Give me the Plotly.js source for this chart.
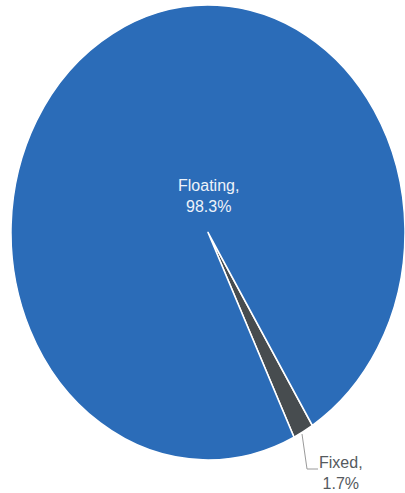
<!DOCTYPE html>
<html>
<head>
<meta charset="utf-8">
<script src="https://cdn.plot.ly/plotly-3.0.1.min.js"></script>
<style>
  html, body { margin: 0; padding: 0; background: #ffffff; width: 405px; height: 493px; overflow: hidden; }
  #pie { position: absolute; left: 11px; top: 5px; width: 394px; height: 394px;
         transform: scaleY(1.1548); transform-origin: 0 0; }
  #overlay { position: absolute; left: 0; top: 0; width: 405px; height: 493px; }
</style>
</head>
<body>
<div id="pie"></div>
<div id="overlay"></div>
<script>
// Data
const labels = ["Fixed", "Floating"];
const values = [1.7, 98.3];
const colors = ["#474c4f", "#2b6cb8"];

Plotly.newPlot("pie", [{
  type: "pie",
  labels: labels,
  values: values,
  sort: false,
  direction: "clockwise",
  rotation: 148,
  textinfo: "none",
  hoverinfo: "label+percent",
  marker: { colors: colors, line: { color: "#ffffff", width: 1.5 } },
  domain: { x: [0, 1], y: [0, 1] }
}], {
  width: 394, height: 394,
  margin: { l: 0, r: 0, t: 0, b: 0, pad: 0 },
  showlegend: false,
  paper_bgcolor: "rgba(0,0,0,0)",
  plot_bgcolor: "rgba(0,0,0,0)"
}, { displayModeBar: false, staticPlot: true });

function lbl(i) { return labels[i] + ",<br>" + values[i].toFixed(1) + "%"; }

Plotly.newPlot("overlay", [], {
  width: 405, height: 493,
  margin: { l: 0, r: 0, t: 0, b: 0, pad: 0 },
  paper_bgcolor: "rgba(0,0,0,0)",
  plot_bgcolor: "rgba(0,0,0,0)",
  xaxis: { range: [0, 405], visible: false, fixedrange: true },
  yaxis: { range: [493, 0], visible: false, fixedrange: true },
  showlegend: false,
  annotations: [
    { x: 208, y: 196, xref: "x", yref: "y", text: lbl(1), showarrow: false,
      xanchor: "center", yanchor: "middle", align: "center",
      font: { family: "Liberation Sans, Arial, sans-serif", size: 16, color: "#eef3fa" } },
    { x: 341, y: 473, xref: "x", yref: "y", text: lbl(0), showarrow: false,
      xanchor: "center", yanchor: "middle", align: "center",
      font: { family: "Liberation Sans, Arial, sans-serif", size: 16, color: "#555a5e" } }
  ],
  shapes: [
    { type: "path", xref: "x", yref: "y", path: "M302,434 L307,469 L318,469",
      line: { color: "#9a9a9a", width: 1 } }
  ]
}, { displayModeBar: false, staticPlot: true });
</script>
</body>
</html>
